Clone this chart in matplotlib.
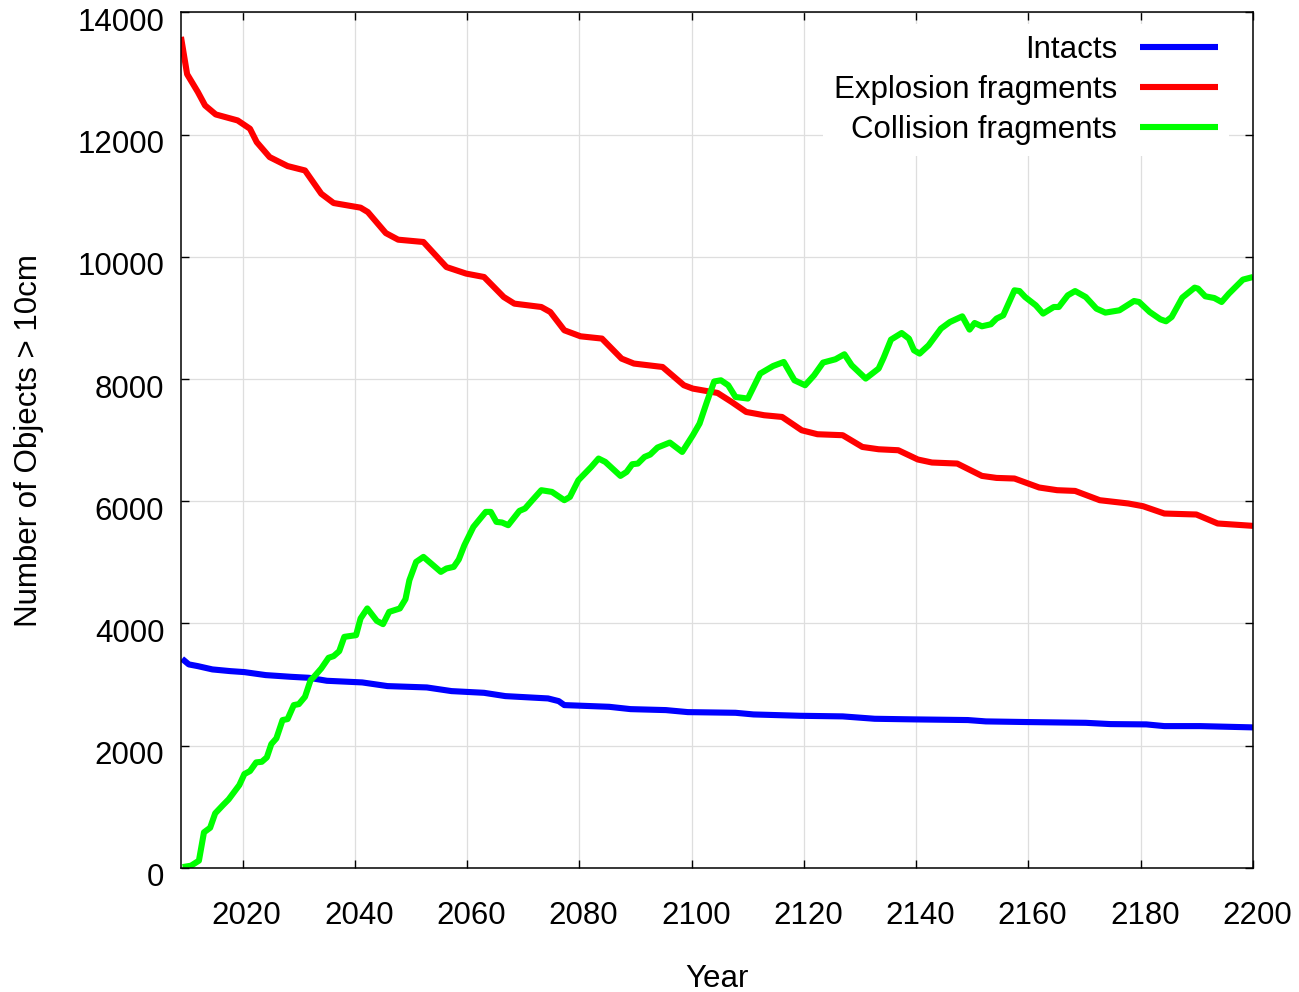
import numpy as np
import matplotlib
matplotlib.use("Agg")
import matplotlib.pyplot as plt
import matplotlib.transforms as mtransforms

plt.rcParams['font.family'] = ['Liberation Sans', 'DejaVu Sans']

# values
intact_years = [2009.2, 2010.4, 2012.0, 2014.6, 2017.8, 2020.3, 2024.1, 2028.6, 2031.8,
                2035.0, 2041.3, 2045.8, 2052.8, 2057.2, 2063.0, 2066.8, 2074.4, 2076.3,
                2077.3, 2085.3, 2089.1, 2095.4, 2099.3, 2107.8, 2111.0, 2119.3, 2126.9,
                2132.6, 2139.6, 2149.2, 2152.4, 2160.0, 2170.2, 2174.6, 2181.0, 2184.2,
                2190.6, 2200.0]
intact_vals = [3420, 3328, 3300, 3246, 3218, 3202, 3153, 3125, 3109,
               3060, 3033, 2973, 2951, 2891, 2863, 2809, 2771, 2727,
               2662, 2634, 2596, 2580, 2547, 2536, 2509, 2487, 2477,
               2438, 2428, 2417, 2395, 2384, 2372, 2351, 2346, 2318,
               2318, 2297]

expl_years = [2009.0, 2010.1, 2012.0, 2013.3, 2015.2, 2019.1, 2021.3, 2022.5, 2024.8,
              2028.0, 2031.1, 2034.0, 2036.2, 2041.0, 2042.3, 2045.5, 2047.7, 2052.2,
              2056.3, 2059.8, 2063.0, 2066.5, 2068.4, 2073.2, 2074.8, 2077.3, 2080.2,
              2084.0, 2087.5, 2089.7, 2094.8, 2098.6, 2100.2, 2104.6, 2107.1, 2109.7,
              2112.9, 2116.1, 2119.6, 2122.4, 2126.9, 2130.4, 2133.3, 2136.8, 2140.3,
              2142.8, 2147.3, 2151.7, 2154.3, 2157.5, 2161.9, 2165.1, 2168.3, 2172.7,
              2177.8, 2180.4, 2184.2, 2189.9, 2193.7, 2200.0]
expl_vals = [13600, 12990, 12700, 12478, 12331, 12233, 12097, 11878, 11633,
             11486, 11414, 11033, 10881, 10805, 10733, 10389, 10281, 10243,
             9833, 9726, 9670, 9343, 9234, 9179, 9097, 8798, 8699,
             8662, 8334, 8253, 8197, 7898, 7843, 7772, 7625, 7461,
             7407, 7379, 7161, 7096, 7080, 6888, 6850, 6834, 6682,
             6633, 6616, 6414, 6381, 6371, 6224, 6180, 6168, 6016,
             5962, 5918, 5798, 5782, 5635, 5596]

coll_years = [2009.3, 2010.8, 2012.2, 2013.1, 2014.2, 2015.1, 2016.5, 2017.5, 2019.4,
              2020.3, 2021.3, 2022.4, 2023.4, 2024.3, 2025.1, 2026.0, 2027.1, 2028.0,
              2029.1, 2030.0, 2031.1, 2032.1, 2032.7, 2034.0, 2035.3, 2036.2, 2037.2,
              2038.1, 2040.2, 2041.0, 2042.2, 2043.9, 2045.0, 2046.1, 2048.0, 2049.0,
              2049.7, 2050.9, 2052.2, 2053.7, 2055.3, 2056.3, 2057.6, 2058.5, 2059.5,
              2061.1, 2063.3, 2064.2, 2065.2, 2066.2, 2067.3, 2069.3, 2070.3, 2071.6,
              2073.2, 2075.1, 2077.3, 2078.3, 2079.8, 2082.1, 2083.4, 2084.6, 2087.3,
              2088.4, 2089.4, 2090.4, 2091.6, 2092.6, 2093.9, 2096.1, 2098.3, 2100.2,
              2101.4, 2102.7, 2104.0, 2105.2, 2106.5, 2107.8, 2110.0, 2112.2, 2114.5,
              2116.4, 2118.3, 2120.2, 2121.8, 2123.4, 2125.6, 2127.2, 2128.5, 2131.0,
              2133.3, 2134.2, 2135.5, 2137.4, 2138.7, 2139.6, 2140.6, 2142.2, 2144.4,
              2146.0, 2148.2, 2149.5, 2150.4, 2151.7, 2153.3, 2154.3, 2155.5, 2157.5,
              2158.4, 2159.4, 2161.3, 2162.6, 2164.5, 2165.4, 2167.0, 2168.3, 2170.2,
              2172.1, 2173.7, 2176.2, 2178.8, 2179.7, 2181.6, 2183.5, 2184.5, 2185.5,
              2187.4, 2189.6, 2190.2, 2191.5, 2193.1, 2194.4, 2195.7, 2198.2, 2200.0]
coll_vals = [10, 33, 115, 579, 654, 890, 1026, 1119, 1353,
             1533, 1582, 1724, 1734, 1806, 2024, 2117, 2417, 2433,
             2662, 2678, 2798, 3071, 3125, 3262, 3436, 3464, 3545,
             3779, 3807, 4080, 4244, 4041, 3987, 4188, 4244, 4396,
             4707, 5006, 5088, 4969, 4843, 4898, 4925, 5046, 5280,
             5579, 5825, 5825, 5661, 5651, 5607, 5841, 5880, 6016,
             6180, 6152, 6016, 6070, 6343, 6561, 6698, 6643, 6414,
             6479, 6605, 6616, 6725, 6763, 6878, 6960, 6806, 7080,
             7271, 7625, 7960, 7979, 7898, 7706, 7680, 8089, 8213,
             8279, 7979, 7898, 8061, 8269, 8323, 8405, 8225, 8007,
             8171, 8351, 8645, 8753, 8661, 8470, 8416, 8552, 8825,
             8933, 9026, 8809, 8917, 8863, 8896, 8989, 9043, 9452,
             9440, 9342, 9206, 9071, 9179, 9179, 9370, 9440, 9342,
             9152, 9087, 9125, 9277, 9261, 9097, 8977, 8945, 9015,
             9332, 9496, 9480, 9354, 9326, 9261, 9398, 9627, 9670]

x_ticks = [2020, 2040, 2060, 2080, 2100, 2120, 2140, 2160, 2180, 2200]
y_ticks = [0, 2000, 4000, 6000, 8000, 10000, 12000, 14000]

fs = 22.5
fig = plt.figure(figsize=(12.99, 9.92), dpi=100)
ax = fig.add_axes([0.1393, 0.1253, 0.8253, 0.8621])

ax.plot(intact_years, intact_vals, color='#0000ff', lw=4.4, label='Intacts',
        solid_joinstyle='round', solid_capstyle='butt')
ax.plot(expl_years, expl_vals, color='#ff0000', lw=4.4, label='Explosion fragments',
        solid_joinstyle='round', solid_capstyle='butt')
ax.plot(coll_years, coll_vals, color='#00ff00', lw=4.4, label='Collision fragments',
        solid_joinstyle='round', solid_capstyle='butt')

ax.set_xlim(2009, 2200)
ax.set_ylim(0, 14000)
ax.set_xticks(x_ticks)
ax.set_yticks(y_ticks)
ax.grid(True, color='#dedede', lw=0.9)
ax.set_axisbelow(True)

ax.tick_params(direction='in', length=6, width=1, top=True, right=True,
               labelsize=fs, colors='black')
ax.tick_params(axis='x', pad=24)
ax.tick_params(axis='y', pad=12)
for s in ax.spines.values():
    s.set_linewidth(1.1)

# shift tick labels a little like the original
off_y = mtransforms.ScaledTranslation(0, -0.07, fig.dpi_scale_trans)
for lab in ax.get_yticklabels():
    lab.set_transform(lab.get_transform() + off_y)
off_x = mtransforms.ScaledTranslation(0.04, 0, fig.dpi_scale_trans)
for lab in ax.get_xticklabels():
    lab.set_transform(lab.get_transform() + off_x)

ax.set_xlabel('Year', fontsize=fs, labelpad=24)
ax.set_ylabel('Number of Objects > 10cm', fontsize=fs, labelpad=24)

leg = ax.legend(loc='upper right', bbox_to_anchor=(0.978, 0.986), fontsize=fs,
                markerfirst=False, frameon=True, fancybox=False, framealpha=1,
                edgecolor='none', facecolor='white', handlelength=2.5,
                handletextpad=0.75, labelspacing=0.31, borderpad=0.35,
                borderaxespad=0)
for line in leg.get_lines():
    line.set_linewidth(4.4)

fig.savefig('out.png', dpi=100)
